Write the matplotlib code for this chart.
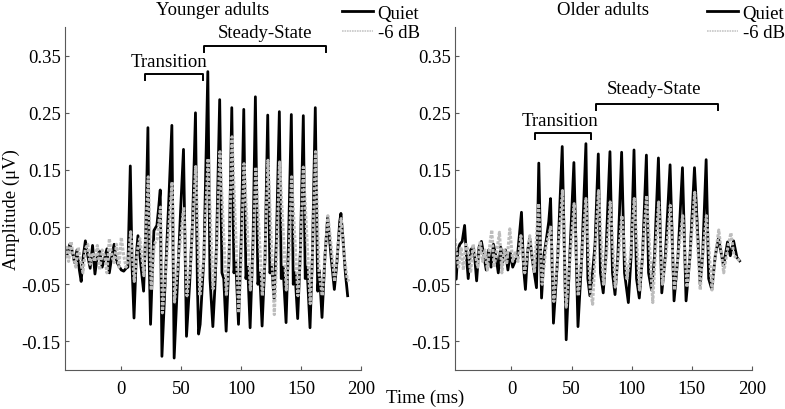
import matplotlib
matplotlib.use("Agg")
import matplotlib.pyplot as plt

plt.rcParams['font.family'] = ['Liberation Serif', 'DejaVu Serif']
plt.rcParams['font.size'] = 13.5

# ---- Younger adults, Quiet (time ms, amplitude uV) ----
young_quiet_t = [-47, -45, -43, -41, -39, -37, -35, -33.5, -32, -30, -28, -26, -24, -22, -20, -18, -16, -14,
                 -12, -10, -8, -6, -4, -2, 0, 2, 4, 5.5,
                 7.5, 9.0, 10.6, 12.5, 13.9, 16, 18.6, 20.5, 22.2, 23.2, 24.4, 26, 27.2, 29.7, 31, 32.5,
                 33.9, 36.5, 39.5, 42.2, 44.1, 47, 49.5, 51.9, 54.4, 57, 59.5, 61.9, 63.5, 64.5, 65.8, 69,
                 72.2, 74, 76.4, 78, 79.5, 82.1, 84, 85.5, 87.5, 90, 92.2, 94, 95.5, 97.8, 100, 102.2,
                 104, 105.5, 107.5, 110, 111.9, 114, 115.5, 117.5, 120, 122.2, 124, 125.5, 127.5, 129.5,
                 131.9, 133.5, 135, 137.5, 139.5, 141.9, 143.5, 145, 147.2, 149.5, 151.9, 153.5, 155,
                 157.5, 159.5, 161.9, 163.9, 165.3, 167.5, 170, 172.2, 175, 177.8, 180, 182.3, 183.3,
                 185, 187, 188.9]
young_quiet_v = [0.015, 0.003, 0.02, 0.008, -0.012, 0.01, -0.025, -0.045, -0.005, 0.026, 0.0, -0.022, 0.018,
                 -0.032, 0.0, 0.008, -0.02, -0.005, 0.012, -0.03, -0.002, 0.02, -0.01, -0.018, -0.025, -0.027,
                 -0.022, -0.02,
                 0.157, -0.02, -0.109, 0.0, 0.035, -0.01, -0.062, 0.05, 0.224, 0.0, -0.12, -0.02, 0.044, 0.053,
                 0.08, 0.115, -0.176, -0.05, 0.09, 0.228, -0.179, -0.04, 0.08, 0.186, -0.141, -0.05, 0.06,
                 0.25, -0.05, -0.137, -0.12, 0.0, 0.322, -0.04, -0.124, -0.06, 0.02, 0.273, -0.03, -0.04,
                 -0.132, 0.0, 0.259, -0.03, -0.01, -0.12, 0.02, 0.256, -0.04, -0.02, -0.126, 0.03, 0.278,
                 -0.05, -0.03, -0.123, 0.0, 0.246, -0.03, -0.02, -0.075, 0.03, 0.252, -0.04, -0.02, -0.117,
                 0.02, 0.247, -0.05, -0.03, -0.11, 0.01, 0.245, -0.04, -0.02, -0.126, 0.0, 0.259, -0.062,
                 -0.026, -0.108, 0.0, 0.068, 0.0, -0.059, -0.01, 0.06, 0.074, 0.03, -0.03, -0.07]

# ---- Younger adults, -6 dB ----
young_6db_t = [-47, -45.5, -44, -42, -40, -38, -36, -34, -32, -30, -28, -26, -24, -22, -20, -18, -16, -14,
               -12, -10, -8, -6, -4, -2, 0, 2, 4, 6,
               7.8, 10.8, 13.5, 15.5, 18.8, 22.5, 25, 27.5, 30, 32.7, 34.3, 37, 42.4, 44.4, 47, 52.1, 54.8,
               58, 62.1, 65.5, 69, 72.4, 76.6, 79.5, 82.3, 87.7, 90, 92.4, 98, 100, 102.4, 107.7, 110,
               112.2, 117.7, 120, 122.4, 127.7, 129.5, 132.1, 137.7, 140, 142.1, 147.4, 149.5, 151.9,
               157.7, 159.5, 162.1, 165, 167.7, 170, 172.4, 175, 178, 181, 183.5, 186, 188.5, 190]
young_6db_v = [-0.005, 0.018, -0.01, 0.025, 0.0, -0.02, 0.015, -0.008, -0.03, 0.012, 0.02, -0.015, 0.005,
               -0.01, 0.018, -0.025, 0.01, 0.0, -0.03, 0.03, 0.0, -0.012, 0.02, -0.02, 0.032, 0.0, -0.02,
               -0.005,
               0.042, -0.045, 0.01, 0.03, -0.035, 0.138, -0.06, 0.02, 0.03, 0.085, -0.1, -0.03, 0.129,
               -0.081, -0.02, 0.085, -0.07, -0.01, 0.156, -0.07, 0.0, 0.17, -0.058, 0.0, 0.182, -0.07, 0.0,
               0.208, -0.1, -0.01, 0.161, -0.06, 0.0, 0.155, -0.07, 0.0, 0.167, -0.103, -0.01, 0.164, -0.06,
               0.0, 0.138, -0.07, 0.0, 0.155, -0.084, 0.0, 0.182, -0.03, -0.07, 0.0, 0.07, 0.02, -0.045,
               0.02, 0.065, 0.0, -0.04, -0.045]

# ---- Older adults, Quiet ----
old_quiet_t = [-47, -46, -44.5, -43, -41, -39, -37.5, -36, -34, -32, -30.5, -29, -27, -25, -23, -21, -19,
               -17, -15, -13, -11, -9, -7, -5, -3, -1, 1, 3, 5,
               8.3, 10, 11.6, 13.5, 15.2, 17.5, 20.8, 22.7, 25, 27, 29.1, 31, 32.5, 34.9, 38.5, 42.2, 45.5,
               48.5, 51.9, 55.3, 58.5, 61.9, 63.5, 65.2, 67, 69.5, 72.2, 74, 76.3, 78.5, 81.9, 84, 86.1,
               88.5, 91.6, 94, 97.2, 99.5, 101.9, 104, 106.3, 109, 112.2, 114, 116.5, 119, 122.2, 125, 128,
               131.9, 135.2, 138.5, 142.2, 145.2, 148.5, 152.2, 156.9, 159, 161.9, 164, 166.6, 169.5,
               172.2, 176.4, 179.7, 182, 184.7, 187.5, 189.7]
old_quiet_v = [0.005, -0.041, 0.01, 0.02, 0.025, 0.053, 0.0, -0.04, 0.01, 0.015, -0.005, -0.044, 0.015, 0.025,
               0.0, -0.025, 0.01, -0.02, 0.02, 0.0, -0.03, 0.015, -0.01, 0.01, -0.025, 0.005, -0.02, -0.01,
               0.0,
               0.076, -0.02, -0.059, 0.01, 0.03, -0.01, -0.056, 0.162, -0.074, 0.0, 0.03, 0.06, 0.1, -0.118,
               0.0, 0.191, -0.147, 0.0, 0.163, -0.124, 0.0, 0.196, -0.04, -0.07, -0.04, 0.02, 0.178, -0.03,
               -0.065, 0.0, 0.182, -0.03, -0.068, 0.0, 0.181, -0.03, -0.082, 0.0, 0.185, -0.04, -0.074, 0.0,
               0.176, -0.03, -0.06, 0.0, 0.171, -0.065, 0.0, 0.159, -0.079, 0.0, 0.154, -0.079, 0.0, 0.154,
               -0.05, 0.0, 0.168, -0.04, -0.059, 0.0, 0.03, -0.018, 0.024, 0.0, 0.026, -0.003, -0.009]

# ---- Older adults, -6 dB ----
old_6db_t = [-47, -45.5, -44, -42, -40, -38, -36, -34, -32, -30, -28, -26, -24, -22, -20, -18, -16.4, -14.5,
             -12.5, -10, -8, -6, -4, -1.4, 1, 3, 5.5,
             7.8, 11, 15.2, 19, 22.5, 25.5, 29, 32.7, 35.2, 38.5, 42.4, 45.5, 48.5, 52.1, 55.5, 58.5, 61.9,
             65.5, 67.5, 69.5, 72.4, 76.5, 79, 82.1, 86.3, 89, 91.8, 96, 99, 102.1, 106.5, 109, 112.4,
             117.5, 119.5, 122.4, 125.5, 128.5, 132.1, 135.5, 138.5, 142.4, 146, 148.5, 152.4, 157, 159,
             162.1, 166.8, 169.5, 172.4, 176.5, 179.5, 182.5, 185, 188, 190]
old_6db_v = [0.03, 0.0, -0.02, 0.015, -0.025, 0.02, 0.01, -0.03, 0.02, 0.0, -0.02, 0.025, -0.01, 0.01, -0.025,
             0.02, 0.045, -0.02, 0.005, 0.041, -0.03, 0.01, -0.015, 0.047, -0.01, 0.005, -0.01,
             0.035, -0.03, 0.035, -0.03, 0.091, -0.05, 0.02, 0.05, -0.08, 0.0, 0.114, -0.09, -0.01, 0.091,
             -0.07, 0.0, 0.1, -0.06, -0.085, 0.0, 0.114, -0.05, 0.0, 0.094, -0.055, 0.0, 0.07, -0.04, 0.0,
             0.1, -0.06, 0.0, 0.105, -0.082, 0.0, 0.094, -0.05, 0.0, 0.088, -0.06, 0.0, 0.07, -0.055, 0.0,
             0.111, -0.06, 0.0, 0.07, -0.06, 0.0, 0.045, -0.03, 0.01, 0.04, 0.0, -0.005, -0.01]

yticks = [-0.15, -0.05, 0.05, 0.15, 0.25, 0.35]
xticks = [0, 50, 100, 150, 200]

# time windows marked with brackets: (name, start, end, bracket height, label x, label y)
young_windows = [("Transition", 20, 68, 0.318, 39.5, 0.340),
                 ("Steady-State", 69.4, 170.8, 0.367, 120, 0.390)]
old_windows = [("Transition", 19.4, 65.8, 0.215, 40.2, 0.237),
               ("Steady-State", 70.3, 172, 0.265, 118.6, 0.293)]

fig = plt.figure(figsize=(7.85, 4.1), dpi=100)
ax1 = fig.add_axes([0.0828, 0.095, 0.377, 0.8366])
ax2 = fig.add_axes([0.5796, 0.095, 0.3783, 0.8366])

panels = [(ax1, young_quiet_t, young_quiet_v, young_6db_t, young_6db_v, "Younger adults", young_windows, 0.4357),
          (ax2, old_quiet_t, old_quiet_v, old_6db_t, old_6db_v, "Older adults", old_windows, 0.9006)]

for ax, qt, qv, dt, dv, title, windows, legx in panels:
    lq, = ax.plot(qt, qv, color='black', lw=2.0, label='Quiet')
    ld, = ax.plot(dt, dv, color='0.74', lw=2.2, ls=(0, (1, 0.5)), label='-6 dB')
    ax.set_xlim(-47, 200)
    ax.set_ylim(-0.2, 0.4)
    ax.set_xticks(xticks)
    ax.set_yticks(yticks)
    ax.set_yticklabels([f"{y:.2f}" for y in yticks])
    ax.spines['top'].set_visible(False)
    ax.spines['right'].set_visible(False)
    for s in ['left', 'bottom']:
        ax.spines[s].set_color('0.35')
        ax.spines[s].set_linewidth(0.8)
    ax.tick_params(direction='in', length=3, color='0.35', width=0.8)
    ax.tick_params(axis='x', pad=7)
    ax.tick_params(axis='y', pad=3)
    ax.text(0.5, 1.052, title, transform=ax.transAxes, ha='center', va='center')
    for name, t0, t1, h, lx, ly in windows:
        ax.plot([t0, t0, t1, t1], [h - 0.01, h, h, h - 0.01], color='black', lw=1.4, clip_on=False)
        ax.text(lx, ly, name, ha='center', va='center')
    hq = plt.Line2D([], [], color='black', lw=2.0)
    hd = plt.Line2D([], [], color='0.78', lw=1.2, ls=(0, (1, 0.5)))
    fig.legend(handles=[hq, hd], labels=['Quiet', '-6 dB'], loc='upper left', bbox_to_anchor=(legx, 0.986),
               frameon=False, borderpad=0, borderaxespad=0, handlelength=1.65, handletextpad=0.25,
               labelspacing=0.12)

fig.text(0.015, 0.49, "Amplitude (\u03bcV)", rotation=90, ha='center', va='center')
fig.text(0.541, 0.029, "Time (ms)", ha='center', va='center')

fig.savefig("out.png", dpi=100)
